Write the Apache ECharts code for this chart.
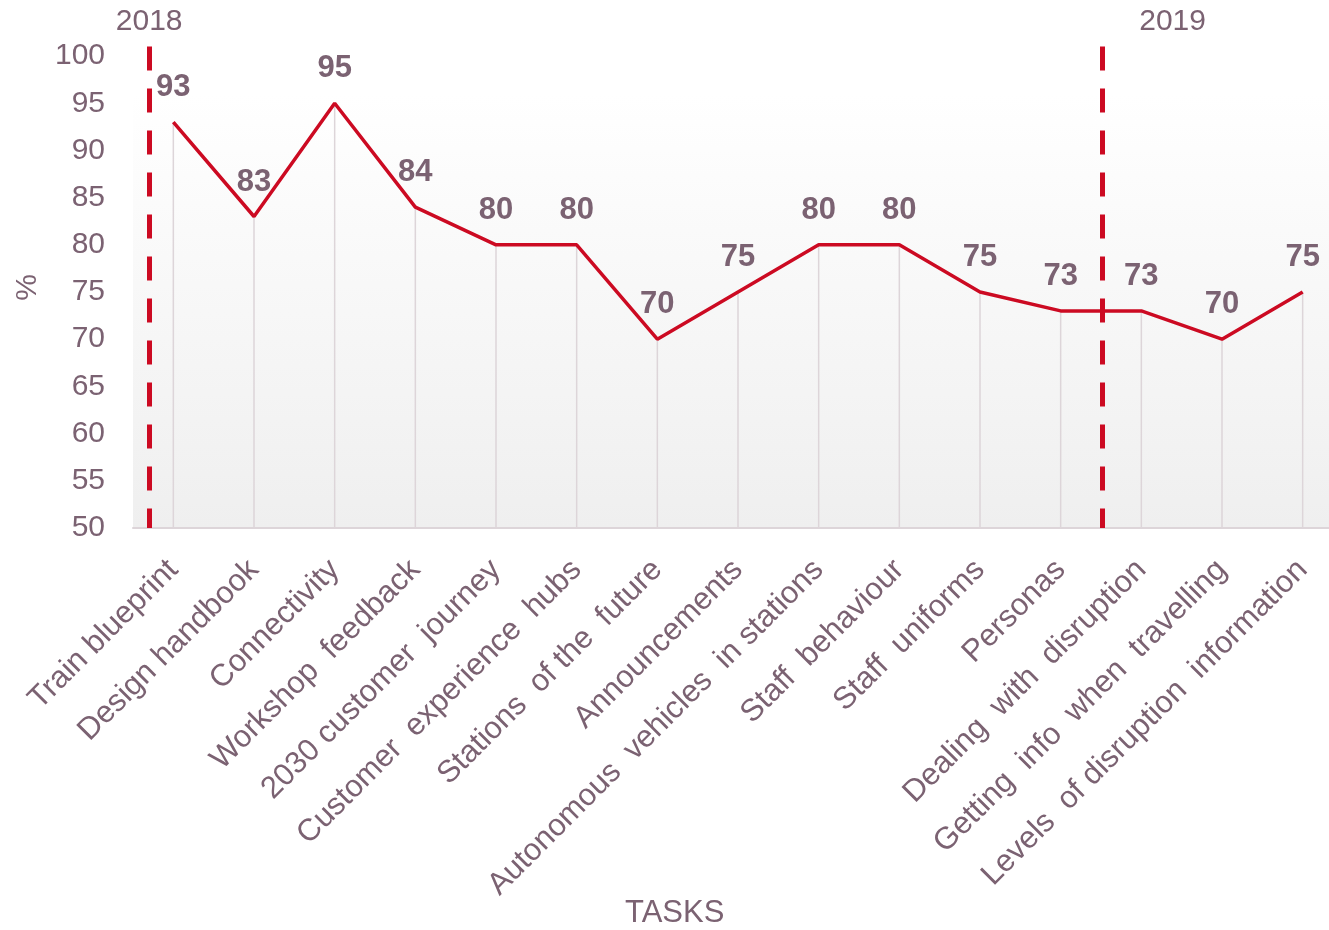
<!DOCTYPE html>
<html>
<head>
<meta charset="utf-8">
<script src="https://cdn.jsdelivr.net/npm/echarts@6/dist/echarts.min.js"></script>
<style>
html,body{margin:0;padding:0;background:#fff;}
#chart{width:1329px;height:930px;}
</style>
</head>
<body>
<div id="chart"></div>
<script>
const categories = [
  'Train blueprint', 'Design handbook', 'Connectivity', 'Workshop  feedback',
  '2030 customer  journey', 'Customer  experience  hubs', 'Stations  of the  future',
  'Announcements', 'Autonomous  vehicles  in stations', 'Staff  behaviour',
  'Staff  uniforms', 'Personas', 'Dealing  with  disruption',
  'Getting  info  when  travelling', 'Levels  of disruption  information'
];
const scores = [93, 83, 95, 84, 80, 80, 70, 75, 80, 80, 75, 73, 73, 70, 75];
const yMin = 50, yMax = 101, yStep = 5;   // top tick label shown is 100
const yearLabels = ['2018', '2019'];
const yearPositions = [-0.3, 11.52];

const TXT = '#7b6272';
const RED = '#cc0a22';
const FONT = '"Liberation Sans", Arial, sans-serif';

const chart = echarts.init(document.getElementById('chart'));
chart.setOption({
  animation: false,
  textStyle: { fontFamily: FONT },
  grid: {
    left: 133, width: 1210, top: 46.6, bottom: 402,
    outerBoundsMode: 'none', containLabel: false,
    show: true, borderWidth: 0,
    backgroundColor: {
      type: 'linear', x: 0, y: 0, x2: 0, y2: 1,
      colorStops: [{ offset: 0, color: '#ffffff' }, { offset: 0.1, color: '#ffffff' }, { offset: 1, color: '#efefef' }]
    }
  },
  title: {
    text: 'TASKS', left: 620, top: 893,
    textStyle: { color: TXT, fontSize: 31, fontWeight: 'normal', fontFamily: FONT }
  },
  xAxis: [{
    type: 'category', data: categories, boundaryGap: true,
    axisLine: { show: true, lineStyle: { color: '#ddd5d9', width: 2 } },
    axisTick: { show: false },
    splitLine: { show: false },
    axisLabel: { interval: 0, rotate: 45, margin: 37, color: TXT, fontSize: 31, fontFamily: FONT }
  }, {
    type: 'value', min: -0.5, max: 14.5, show: false
  }],
  yAxis: {
    type: 'value', min: yMin, max: yMax, interval: yStep,
    name: '%', nameLocation: 'middle', nameRotate: 90, nameGap: 90,
    nameTextStyle: { color: TXT, fontSize: 30, fontFamily: FONT },
    axisLine: { show: false }, axisTick: { show: false }, splitLine: { show: false },
    axisLabel: { color: TXT, fontSize: 30, margin: 28, fontFamily: FONT, showMaxLabel: false }
  },
  series: [{
    type: 'bar', xAxisIndex: 0, data: scores, barWidth: 1.5, z: 1,
    itemStyle: { color: '#ddd5d9' },
    label: { show: true, position: 'top', distance: 19, color: TXT, fontSize: 31, fontWeight: 'bold', fontFamily: FONT }
  }, {
    type: 'line', xAxisIndex: 0, data: scores, symbol: 'none', z: 3,
    lineStyle: { color: RED, width: 3.5 }
  }, {
    type: 'line', xAxisIndex: 1, z: 4, clip: false,
    data: yearPositions.map(p => [p, yMin]),
    symbol: 'none', lineStyle: { opacity: 0, width: 0 },
    markLine: {
      silent: true, symbol: ['none', 'none'], animation: false,
      lineStyle: { color: RED, width: 5, type: [24, 18] },
      label: { show: true, position: 'start', distance: 10, color: TXT, fontSize: 30, fontFamily: FONT },
      data: yearPositions.map((p, i) => [
        { coord: [p, yMax], name: yearLabels[i],
          label: { formatter: yearLabels[i], padding: i === 1 ? [0, 0, 0, 140] : [0, 0, 0, 0] } },
        { coord: [p, yMin] }
      ])
    }
  }]
});
</script>
</body>
</html>
